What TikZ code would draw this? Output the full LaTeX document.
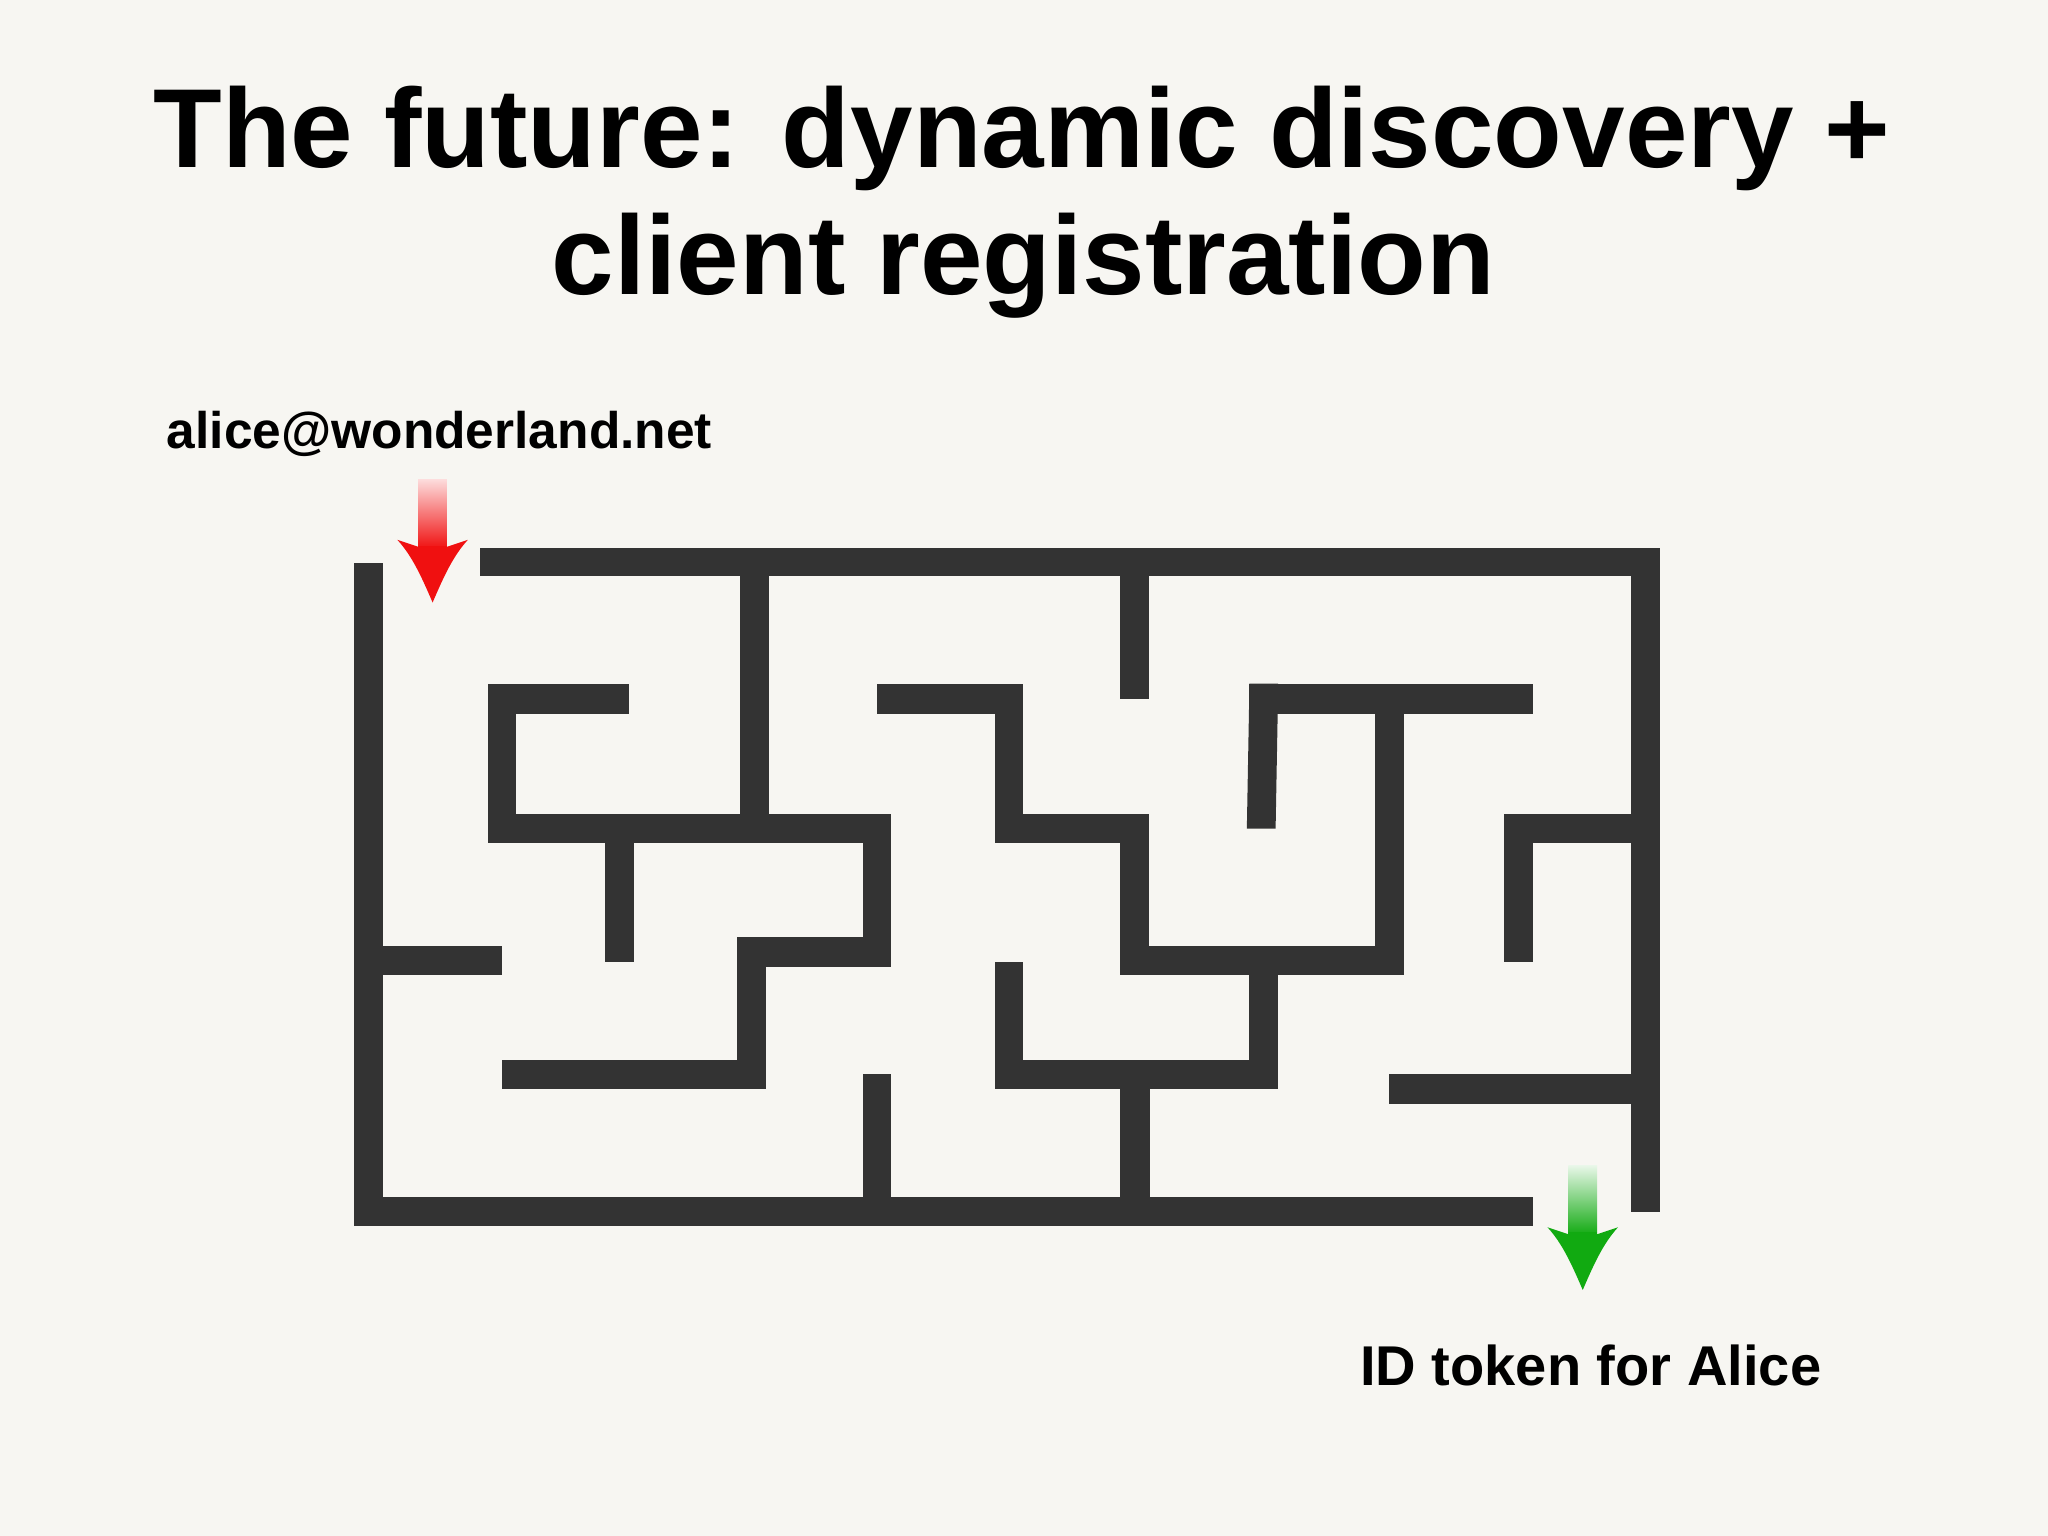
\documentclass[tikz,border=0pt]{standalone}
\usepackage{fontspec}
\setmainfont{Liberation Sans}
\begin{document}
\begin{tikzpicture}[x=0.01cm,y=-0.01cm]
\definecolor{bg}{HTML}{F7F6F2}
\definecolor{wall}{HTML}{333333}
\definecolor{ared}{HTML}{F01010}
\definecolor{agreen}{HTML}{11AA11}
\tikzset{w/.style={fill=wall}}
\fill[bg] (0,0) rectangle (1567,1175);
\useasboundingbox (0,0) rectangle (1567,1175);
% walls
\fill[w] (271,431) rectangle (293,938);
\fill[w] (367,419) rectangle (1270,441);
\fill[w] (1248,419) rectangle (1270,927);
\fill[w] (271,916) rectangle (1173,938);
\fill[w] (566,419) rectangle (588,634);
\fill[w] (857,419) rectangle (879,535);
\fill[w] (373,523) rectangle (481,546);
\fill[w] (373,523) rectangle (395,645);
\fill[w] (373,623) rectangle (682,645);
\fill[w] (463,623) rectangle (485,736);
\fill[w] (660,623) rectangle (682,740);
\fill[w] (564,717) rectangle (682,740);
\fill[w] (564,717) rectangle (586,833);
\fill[w] (384,811) rectangle (586,833);
\fill[w] (271,724) rectangle (384,746);
\fill[w] (660,822) rectangle (682,927);
\fill[w] (671,523) rectangle (783,546);
\fill[w] (761,523) rectangle (783,645);
\fill[w] (761,623) rectangle (879,645);
\fill[w] (857,623) rectangle (879,746);
\fill[w] (857,724) rectangle (1074,746);
\fill[w] (1052,523) rectangle (1074,746);
\fill[w] (956,523) rectangle (1173,546);
\fill[w] (956,523) -- (978,523) -- (976,634) -- (954,634) -- cycle;
\fill[w] (956,724) rectangle (978,833);
\fill[w] (761,811) rectangle (978,833);
\fill[w] (761,736) rectangle (783,833);
\fill[w] (857,811) rectangle (880,927);
\fill[w] (1151,623) rectangle (1270,645);
\fill[w] (1151,623) rectangle (1173,736);
\fill[w] (1063,822) rectangle (1270,845);
% arrows
\shade[top color=ared!15, bottom color=ared] (320,367) rectangle (342,420);
\fill[ared] (320,418) rectangle (342,428);
\fill[ared] (331,461) .. controls (322,440) and (315,425) .. (304,413) -- (331,422) -- (358,413) .. controls (347,425) and (340,440) .. (331,461) -- cycle;
\shade[top color=agreen!10, bottom color=agreen] (1200,892) rectangle (1222,945);
\fill[agreen] (1200,943) rectangle (1222,953);
\fill[agreen] (1211,987) .. controls (1202,966) and (1195,951) .. (1184,939) -- (1211,948) -- (1238,939) .. controls (1227,951) and (1220,966) .. (1211,987) -- cycle;
% texts
\node[font=\fontsize{24.45}{28}\selectfont\bfseries, anchor=base] (t1) at (782,128) {The future: dynamic discovery +};
\node[font=\fontsize{24.45}{28}\selectfont\bfseries, anchor=base] (t2) at (783,225) {client registration};
\node[font=\fontsize{11.2}{13}\selectfont\bfseries, anchor=base west, inner sep=0] (a) at (127,343) {alice@wonderland.net};
\node[font=\fontsize{12.2}{14}\selectfont\bfseries, anchor=base west, inner sep=0] (b) at (1040,1060) {ID token for Alice};
\end{tikzpicture}
\end{document}
